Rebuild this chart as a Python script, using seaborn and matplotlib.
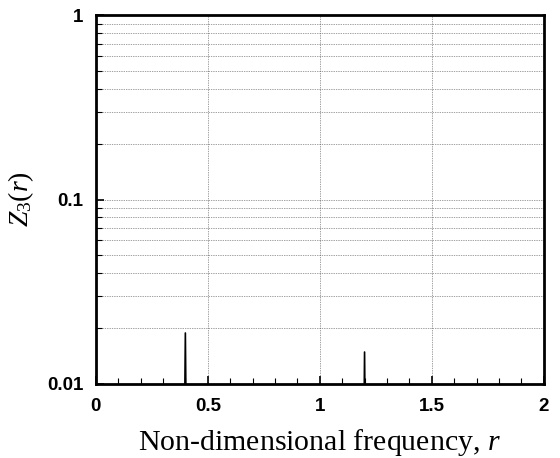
import numpy as np
import pandas as pd
import matplotlib
matplotlib.use('Agg')
import matplotlib.pyplot as plt
from matplotlib.ticker import FixedLocator, NullFormatter, MultipleLocator
import seaborn as sns

# spectrum samples (values below 0.01 sit under the axis)
freq = [0.0, 0.38, 0.39, 0.395, 0.40, 0.405, 0.41, 0.42,
        1.18, 1.19, 1.195, 1.20, 1.205, 1.21, 1.22, 2.0]
z3 = [1e-4, 1e-4, 5e-4, 0.004, 0.0189, 0.004, 5e-4, 1e-4,
      1e-4, 5e-4, 0.003, 0.0149, 0.003, 5e-4, 1e-4, 1e-4]

x_ticks = [0, 0.5, 1, 1.5, 2]
x_tick_labels = ['0', '0.5', '1', '1.5', '2']
y_ticks = [0.01, 0.1, 1]
y_tick_labels = ['0.01', '0.1', '1']

df = pd.DataFrame({'r': freq, 'Z3': z3})

sns.set_style('ticks')
plt.rcParams['text.color'] = 'black'
plt.rcParams['xtick.color'] = 'black'
plt.rcParams['ytick.color'] = 'black'
plt.rcParams['axes.labelcolor'] = 'black'
plt.rcParams['mathtext.fontset'] = 'custom'
plt.rcParams['mathtext.rm'] = 'Liberation Serif'
plt.rcParams['mathtext.it'] = 'Liberation Serif:italic'

fig = plt.figure(figsize=(5.6, 4.58), dpi=100)
ax = fig.add_axes([0.171, 0.1616, 0.8, 0.8054])

sns.lineplot(data=df, x='r', y='Z3', ax=ax, color='black', linewidth=1.2)

ax.set_yscale('log')
ax.set_xlim(0, 2)
ax.set_ylim(0.01, 1)

# dotted grid at every log minor tick and at the x majors
minor_y = [m * 10.0 ** e for e in (-2, -1) for m in range(2, 10)]
for yv in minor_y + [0.1]:
    ax.axhline(yv, color='#444444', linestyle=(0, (1, 1.5)), linewidth=0.5, zorder=0)
for xv in [0.5, 1, 1.5]:
    ax.axvline(xv, color='#444444', linestyle=(0, (1, 1.5)), linewidth=0.5, zorder=0)

ax.xaxis.set_major_locator(FixedLocator(x_ticks))
ax.set_xticklabels(x_tick_labels)
ax.xaxis.set_minor_locator(MultipleLocator(0.1))
ax.yaxis.set_major_locator(FixedLocator(y_ticks))
ax.set_yticklabels(y_tick_labels)
ax.yaxis.set_minor_locator(FixedLocator(minor_y))
ax.yaxis.set_minor_formatter(NullFormatter())

ax.tick_params(which='both', direction='in', top=False, right=False)
ax.tick_params(which='major', length=6, width=1.2)
ax.tick_params(axis='x', which='major', pad=10)
ax.tick_params(axis='y', which='major', pad=9)
ax.tick_params(which='minor', length=4, width=0.8)
for lab in ax.get_xticklabels() + ax.get_yticklabels():
    lab.set_fontfamily('Liberation Sans')
    lab.set_fontweight('bold')
    lab.set_fontsize(13.5)

for s in ax.spines.values():
    s.set_linewidth(2)
    s.set_color('black')

ax.set_xlabel('Non-dimensional frequency, $r$', fontsize=21.5,
              fontfamily='Liberation Serif', labelpad=9)
ax.set_ylabel('$Z_3(r)$', fontsize=20, labelpad=8)

fig.savefig('out.png', dpi=100)
